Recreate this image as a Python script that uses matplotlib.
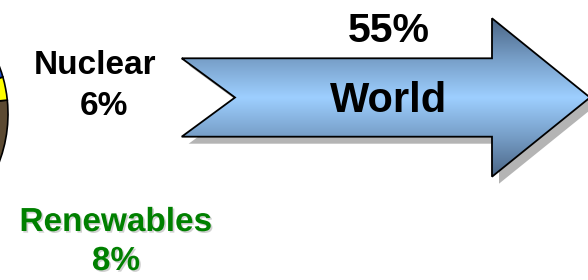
import numpy as np
import matplotlib
matplotlib.use("Agg")
import matplotlib.pyplot as plt
from matplotlib.patches import Polygon, Wedge
from matplotlib.colors import LinearSegmentedColormap
import matplotlib.patheffects as pe

# ---- data ----
world_label = "World"
world_share = "55%"
side_labels = ["Nuclear", "Renewables"]
side_values = ["6%", "8%"]
side_colors = ["black", "#008000"]
# partial pie visible at the left edge (shares, %)
pie_shares = [18.3, 2.75, 18.0, 60.95]
pie_colors = ["#5c4a32", "#ffff00", "#1f4fd0", "#888888"]

W, H = 588, 280
fig = plt.figure(figsize=(W / 100, H / 100), dpi=100)
ax = fig.add_axes([0, 0, 1, 1])
ax.set_xlim(0, W)
ax.set_ylim(H, 0)
ax.set_aspect("equal")
ax.axis("off")

# ---- partial pie ----
pc = (-128, 114)
pr = 136
start = -60.0
for share, col in zip(pie_shares, pie_colors):
    span = share * 3.6
    w = Wedge(pc, pr, -(start + span), -start, facecolor=col,
              edgecolor="black", linewidth=1.2, zorder=2)
    ax.add_patch(w)
    start += span

# ---- arrow ----
x0, notch, xh, tip = 181.7, 235.0, 492.0, 590.0
ys_top, ys_bot, yh_top, yh_bot = 58.3, 136.7, 18.3, 176.7
yc = (yh_top + yh_bot) / 2
pts = np.array([
    [x0, ys_top], [xh, ys_top], [xh, yh_top], [tip, yc],
    [xh, yh_bot], [xh, ys_bot], [x0, ys_bot], [notch, yc]
])
shadow = Polygon(pts + np.array([7, 7]), closed=True, facecolor="#b4b4b4",
                 edgecolor="none", zorder=3)
ax.add_patch(shadow)

cmap = LinearSegmentedColormap.from_list(
    "arr", ["#4a6585", "#769dc6", "#9dcfff", "#769dc6", "#4a6585"])
grad = np.linspace(0, 1, 256).reshape(-1, 1)
im = ax.imshow(grad, cmap=cmap, aspect="auto",
               extent=[x0, tip, yh_bot, yh_top], zorder=4)
body = Polygon(pts, closed=True, facecolor="none", edgecolor="black",
               linewidth=1.3, zorder=5, joinstyle="miter")
ax.add_patch(body)
im.set_clip_path(body)

ax.text(388.5, 101, world_label, ha="center", va="center", fontsize=30,
        fontweight="bold", family="Liberation Sans", zorder=6)
ax.text(388.5, 31, world_share, ha="center", va="center", fontsize=29.5,
        fontweight="bold", family="Liberation Sans", zorder=6)

# ---- side labels ----
ax.text(95, 66, side_labels[0], ha="center", va="center", fontsize=24,
        fontweight="bold", family="Liberation Sans", color=side_colors[0])
ax.text(104, 106.5, side_values[0], ha="center", va="center", fontsize=24,
        fontweight="bold", family="Liberation Sans", color=side_colors[0])

shadow_fx = [pe.withSimplePatchShadow(offset=(1.2, -1.2),
                                      shadow_rgbFace="#999999", alpha=0.45)]
ax.text(116, 222.5, side_labels[1], ha="center", va="center", fontsize=24,
        fontweight="bold", family="Liberation Sans", color=side_colors[1],
        path_effects=shadow_fx)
ax.text(116, 261.5, side_values[1], ha="center", va="center", fontsize=24,
        fontweight="bold", family="Liberation Sans", color=side_colors[1],
        path_effects=shadow_fx)

fig.savefig("out.png", dpi=100)
